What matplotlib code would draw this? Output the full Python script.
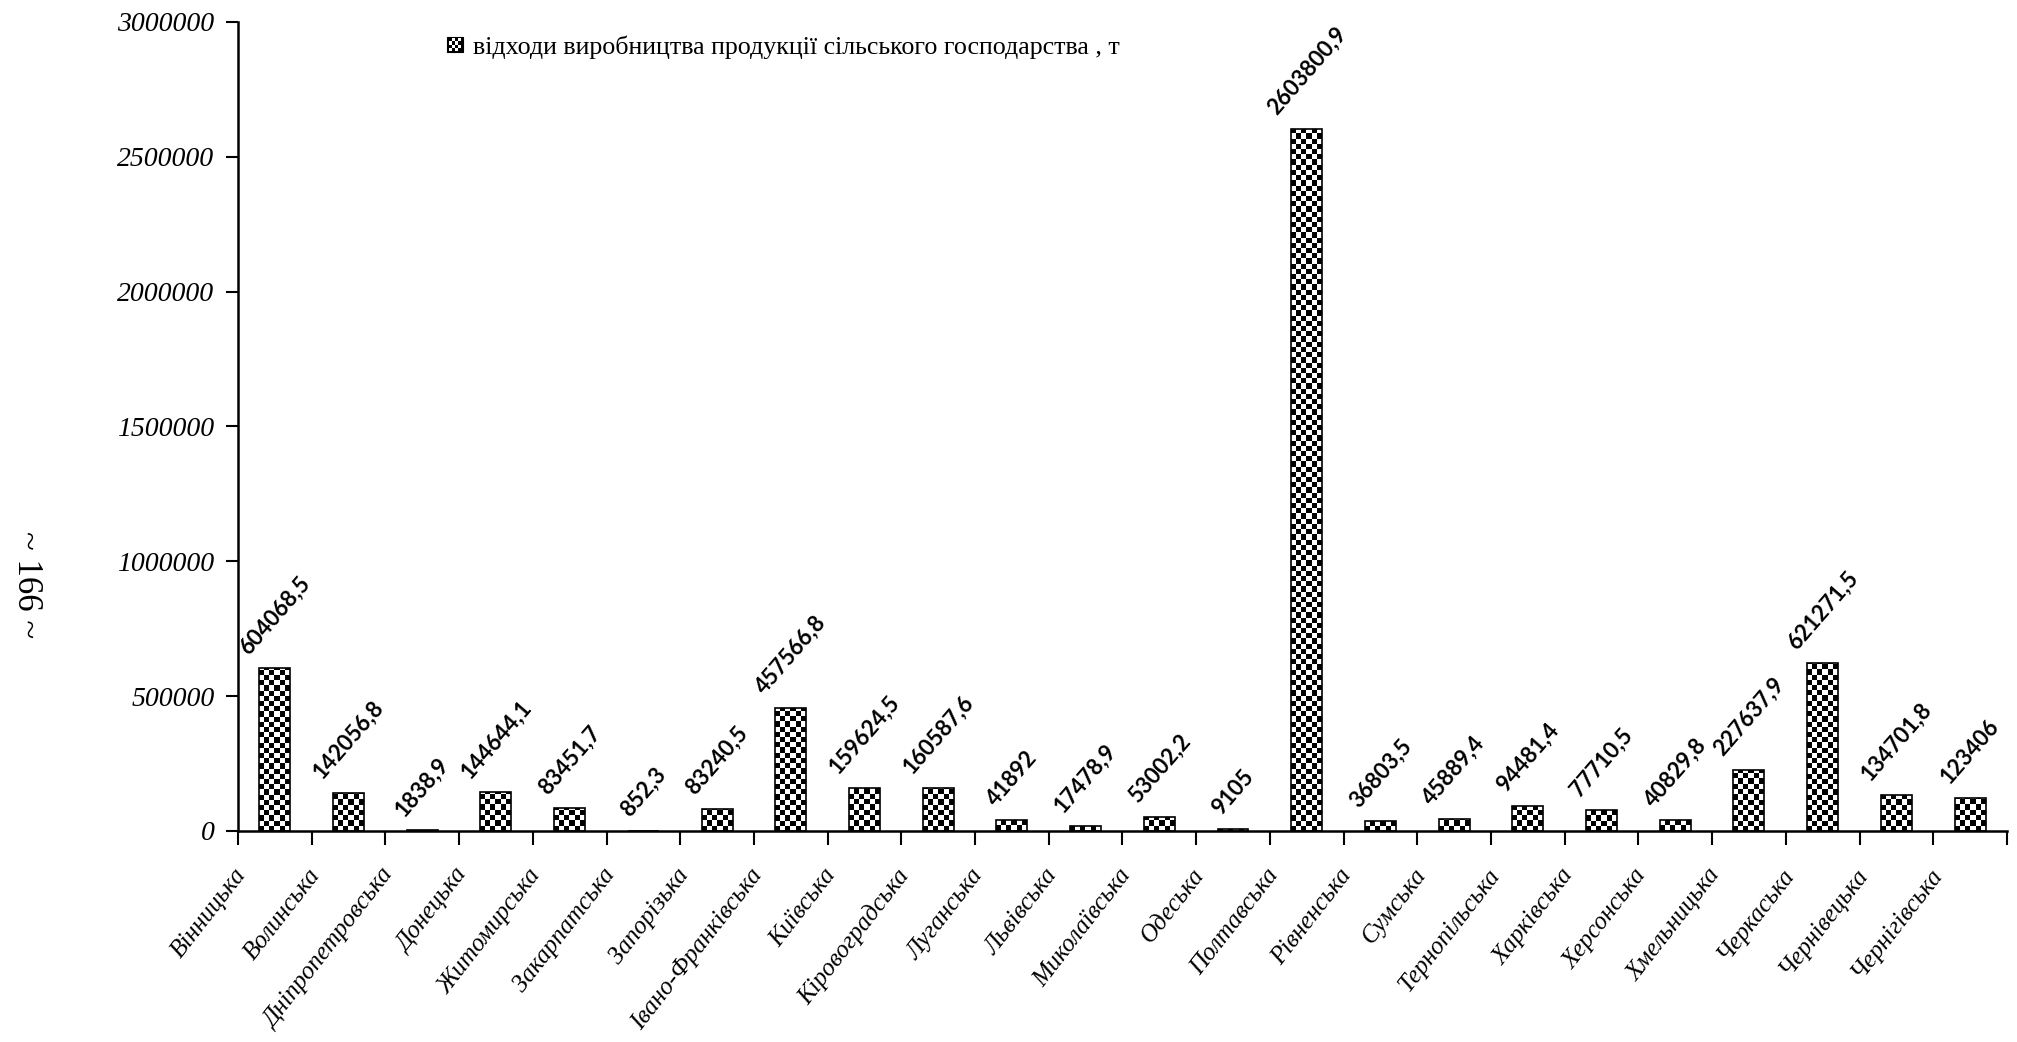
import numpy as np
import matplotlib
matplotlib.use('Agg')
import matplotlib.pyplot as plt
import matplotlib.transforms as mtransforms
from matplotlib.patches import Rectangle
from matplotlib.legend_handler import HandlerBase

regions = ['Вінницька', 'Волинська', 'Дніпропетровська', 'Донецька', 'Житомирська',
           'Закарпатська', 'Запорізька', 'Івано-Франківська', 'Київська', 'Кіровоградська',
           'Луганська', 'Львівська', 'Миколаївська', 'Одеська', 'Полтавська',
           'Рівненська', 'Сумська', 'Тернопільська', 'Харківська', 'Херсонська',
           'Хмельницька', 'Черкаська', 'Чернівецька', 'Чернігівська']
waste = [604068.5, 142056.8, 1838.9, 144644.1, 83451.7,
         852.3, 83240.5, 457566.8, 159624.5, 160587.6,
         41892, 17478.9, 53002.2, 9105, 2603800.9,
         36803.5, 45889.4, 94481.4, 77710.5, 40829.8,
         227637.9, 621271.5, 134701.8, 123406]
y_ticks = [0, 500000, 1000000, 1500000, 2000000, 2500000, 3000000]
series_name = 'відходи виробництва продукції сільського господарства , т'

SERIF = 'Liberation Serif'


def fmt(v):
    "число з десятковою комою"
    s = ('%.1f' % v).rstrip('0').rstrip('.')
    return s.replace('.', ',')


class CheckerHandler(HandlerBase):
    "маленький квадрат у шашку для легенди"
    def create_artists(self, legend, orig_handle, xdescent, ydescent,
                       width, height, fontsize, trans):
        s = min(width, height)
        x0, y0 = -xdescent, -ydescent + (height - s) / 2
        arts = [Rectangle((x0, y0), s, s, facecolor='black', edgecolor='black',
                          linewidth=0.8, transform=trans)]
        n = 4
        c = s / (n + 1)
        for i in range(n):
            for j in range(n):
                if (i + j) % 2 == 0:
                    arts.append(Rectangle((x0 + c / 2 + i * c, y0 + c / 2 + j * c), c, c,
                                          facecolor='white', edgecolor='none',
                                          transform=trans))
        return arts


fig = plt.figure(figsize=(20.17, 10.42), dpi=100)
ax = fig.add_axes([0.118, 0.2025, 0.877, 0.7765])

x = np.arange(len(regions))
bw = 0.42
bars = ax.bar(x, waste, width=bw, facecolor='none', edgecolor='black',
              linewidth=1.2, zorder=3)

# заливка у шашку, обрізана по кожному стовпчику
ax_h_px = 0.7765 * 1042
cell_y = 3000000 / ax_h_px * 5.2
ncol = 6
for b, v in zip(bars, waste):
    nrow = max(1, int(np.ceil(v / cell_y)))
    grid = np.indices((nrow, ncol)).sum(axis=0) % 2
    x0 = b.get_x()
    im = ax.imshow(grid, cmap='gray', interpolation='nearest', aspect='auto',
                   origin='lower', extent=(x0, x0 + bw, 0, nrow * cell_y), zorder=2)
    im.set_clip_path(b)

for xi, v in zip(x, waste):
    ax.annotate(fmt(v), (xi, v), xytext=(0, 10), textcoords='offset pixels',
                rotation=49, ha='center', va='bottom', family='Lato',
                fontweight='bold', fontsize=16)

ax.set_xlim(-0.5, len(regions) - 0.5)
ax.set_ylim(0, 3000000)

ax.set_yticks(y_ticks)
ax.set_yticklabels([str(t) for t in y_ticks], family=SERIF, style='italic', fontsize=20)
ax.tick_params(axis='y', direction='out', length=9, width=1.5, pad=8)

ax.set_xticks(x)
ax.set_xticklabels(regions, rotation=52, ha='right', va='top',
                   family=SERIF, style='italic', fontsize=18)
ax.set_xticks(np.arange(-0.5, len(regions), 1), minor=True)
ax.tick_params(axis='x', which='major', length=0, pad=24)
ax.tick_params(axis='x', which='minor', direction='out', length=10, width=1.5)
shift = mtransforms.ScaledTranslation(-24 / 100, 0, fig.dpi_scale_trans)
for lbl in ax.get_xticklabels():
    lbl.set_transform(lbl.get_transform() + shift)

for side in ['top', 'right']:
    ax.spines[side].set_visible(False)
for side in ['left', 'bottom']:
    ax.spines[side].set_linewidth(1.8)

ax.legend(handles=[Rectangle((0, 0), 1, 1)], labels=[series_name],
          handler_map={Rectangle: CheckerHandler()},
          loc='center left', bbox_to_anchor=(447 / 2017, 1 - 47 / 1042),
          bbox_transform=fig.transFigure, frameon=False, borderpad=0,
          borderaxespad=0, handlelength=0.6, handleheight=0.6, handletextpad=0.4,
          prop={'family': SERIF, 'size': 18.7})

fig.text(26 / 2017, 1 - 585 / 1042, '~ 166 ~', rotation=-90, ha='center', va='center',
         family=SERIF, fontsize=25)

fig.savefig('out.png', dpi=100)
